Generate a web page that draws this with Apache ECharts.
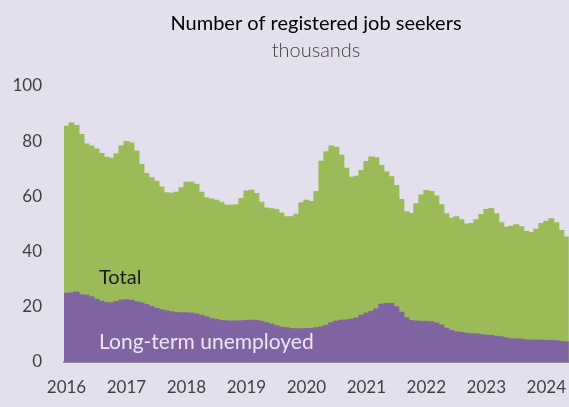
<!DOCTYPE html>
<html>
<head>
<meta charset="utf-8">
<script src="https://cdn.jsdelivr.net/npm/echarts@6/dist/echarts.min.js"></script>
<style>
  html, body { margin: 0; padding: 0; background: #e4dfec; }
  #chart { width: 569px; height: 407px; }
</style>
</head>
<body>
<div id="chart"></div>
<script>
// Year tick labels; one bar per month from January 2016 to May 2024
const years = ['2016', '2017', '2018', '2019', '2020', '2021', '2022', '2023', '2024'];
const monthsInLastYear = 5;

// Registered job seekers, thousands
const total = [
  85.6, 86.8, 85.9, 82.6, 79.2, 78.4, 77.4, 75.7, 74.4, 74.0, 75.6, 78.4,
  80.1, 79.5, 76.6, 71.7, 68.5, 66.9, 65.7, 63.6, 61.5, 61.3, 61.7, 63.3,
  65.3, 65.3, 64.6, 61.7, 59.6, 59.2, 58.8, 58.1, 57.0, 57.0, 57.2, 59.4,
  62.1, 62.4, 61.2, 58.1, 56.0, 55.7, 55.4, 54.2, 52.8, 52.8, 53.7, 57.9,
  58.8, 58.3, 62.0, 72.9, 76.4, 78.4, 78.0, 75.1, 70.4, 67.1, 67.5, 69.6,
  72.8, 74.5, 74.2, 71.4, 69.0, 67.3, 64.1, 59.1, 54.6, 54.0, 57.5, 60.7,
  62.3, 62.0, 60.3, 57.2, 53.9, 52.3, 52.8, 51.7, 50.2, 50.4, 51.7, 53.6,
  55.4, 55.8, 53.9, 50.6, 49.0, 49.4, 49.9, 49.2, 47.5, 47.1, 48.3, 50.4,
  51.2, 52.1, 50.6, 47.8, 45.5
];

// Long-term unemployed, thousands
const longTerm = [
  25.1, 25.2, 25.5, 24.5, 24.4, 23.8, 22.9, 22.2, 21.7, 21.6, 22.1, 22.6,
  22.7, 22.5, 22.0, 21.6, 21.0, 20.3, 19.6, 19.1, 18.7, 18.4, 18.1, 18.0,
  18.0, 17.9, 17.6, 17.1, 16.5, 15.9, 15.6, 15.2, 15.1, 15.0, 15.0, 15.1,
  15.2, 15.3, 15.2, 14.9, 14.4, 13.9, 13.3, 12.8, 12.6, 12.3, 12.2, 12.2,
  12.3, 12.3, 12.6, 12.9, 13.5, 14.4, 15.0, 15.3, 15.4, 15.7, 16.1, 17.1,
  17.9, 18.5, 19.4, 21.1, 21.4, 21.4, 20.2, 18.2, 16.2, 15.2, 15.0, 14.9,
  14.9, 14.8, 14.3, 13.6, 12.4, 11.6, 11.1, 10.9, 10.6, 10.4, 10.4, 10.1,
  9.9, 9.8, 9.5, 9.3, 8.9, 8.6, 8.5, 8.5, 8.2, 8.1, 8.1, 8.1,
  8.0, 8.0, 7.9, 7.6, 7.5
];

// Month categories "YYYY-MM"
const categories = [];
years.forEach((y, i) => {
  const n = i === years.length - 1 ? monthsInLastYear : 12;
  for (let m = 1; m <= n; m++) categories.push(y + '-' + String(m).padStart(2, '0'));
});

const FONT = 'Lato, "Open Sans", sans-serif';
const chart = echarts.init(document.getElementById('chart'), null, { renderer: 'canvas' });

chart.setOption({
  backgroundColor: '#e4dfec',
  animation: false,
  title: {
    text: 'Number of registered job seekers',
    subtext: 'thousands',
    left: 311,
    top: 9,
    textAlign: 'center',
    itemGap: 7,
    textStyle: { color: '#000', fontSize: 20, fontWeight: 'normal', fontFamily: FONT },
    subtextStyle: { color: '#404040', fontSize: 20, fontWeight: 300, fontFamily: FONT }
  },
  grid: { left: 64, right: 0, top: 86, bottom: 45 },
  xAxis: {
    type: 'category',
    data: categories,
    boundaryGap: true,
    axisLine: { lineStyle: { color: '#8c8c8c', width: 2 } },
    axisTick: { interval: 11, length: 7, lineStyle: { color: '#8c8c8c', width: 2 } },
    axisLabel: {
      interval: 11,
      margin: 17,
      color: '#404040',
      fontSize: 17,
      fontFamily: FONT,
      formatter: v => v.slice(0, 4)
    }
  },
  yAxis: {
    type: 'value',
    min: 0,
    max: 100,
    interval: 20,
    axisLine: { show: false },
    axisTick: { show: false },
    splitLine: { show: false },
    axisLabel: { color: '#404040', fontSize: 17, fontFamily: FONT, margin: 22 }
  },
  series: [
    {
      name: 'Total',
      type: 'bar',
      data: total,
      barWidth: 6,
      barGap: '-100%',
      itemStyle: { color: '#9bbb59' }
    },
    {
      name: 'Long-term unemployed',
      type: 'bar',
      data: longTerm,
      barWidth: 6,
      barGap: '-100%',
      itemStyle: { color: '#8064a2' }
    }
  ],
  graphic: [
    {
      type: 'text',
      left: 99,
      top: 268,
      z: 100,
      style: { text: 'Total', fill: '#1a1a1a', font: '20px ' + FONT }
    },
    {
      type: 'text',
      left: 99,
      top: 332,
      z: 100,
      style: { text: 'Long-term unemployed', fill: '#ece6f4', font: '21px ' + FONT }
    }
  ]
});
</script>
</body>
</html>
